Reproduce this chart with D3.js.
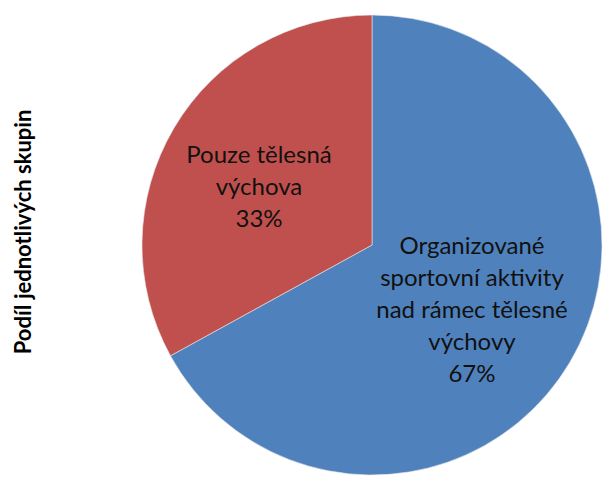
<!DOCTYPE html>
<html lang="cs">
<head>
<meta charset="utf-8">
<title>Podíl jednotlivých skupin</title>
<script src="https://cdn.jsdelivr.net/npm/d3@7"></script>
<style>
  body { margin: 0; background: #fff; }
  svg { display: block; font-family: Lato, "Open Sans", sans-serif; }
</style>
</head>
<body>
<svg id="chart" width="603" height="481"></svg>
<script>
// data
var categories = ['Organizované sportovní aktivity nad rámec tělesné výchovy', 'Pouze tělesná výchova'];
var values = [67, 33];
var labelLines = [
  ['Organizované', 'sportovní aktivity', 'nad rámec tělesné', 'výchovy'],
  ['Pouze tělesná', 'výchova']
];
var colors = ['#4F81BD', '#C0504D'];
var axisTitle = 'Podíl jednotlivých skupin';

var svg = d3.select('#chart');
var cx = 372, cy = 245, r = 230;

var pie = d3.pie().sort(null).value(function(d) { return d; });
var arcs = pie(values);
var arc = d3.arc().innerRadius(0).outerRadius(r);

var g = svg.append('g').attr('transform', 'translate(' + cx + ',' + cy + ')');

g.selectAll('path')
  .data(arcs)
  .enter().append('path')
  .attr('d', arc)
  .attr('fill', function(d, i) { return colors[i]; })
  .attr('stroke', '#e8e8e8')
  .attr('stroke-width', 0.6);

// label positions (centre of text block, relative to pie centre)
var labelPos = [[100, 65], [-113, -58]];
var lineH = 32;

arcs.forEach(function(d, i) {
  var lines = labelLines[i].concat([Math.round(values[i]) + '%']);
  var t = g.append('text')
    .attr('text-anchor', 'middle')
    .attr('font-size', 24)
    .attr('fill', '#111');
  var y0 = labelPos[i][1] - (lines.length - 1) * lineH / 2;
  lines.forEach(function(s, k) {
    t.append('tspan')
      .attr('x', labelPos[i][0])
      .attr('y', y0 + k * lineH)
      .attr('dy', '0.35em')
      .text(s);
  });
});

svg.append('text')
  .attr('transform', 'translate(23,232) rotate(-90)')
  .attr('text-anchor', 'middle')
  .attr('dy', '0.35em')
  .attr('font-size', 22)
  .attr('font-weight', 'bold')
  .attr('fill', '#000')
  .text(axisTitle);
</script>
</body>
</html>
